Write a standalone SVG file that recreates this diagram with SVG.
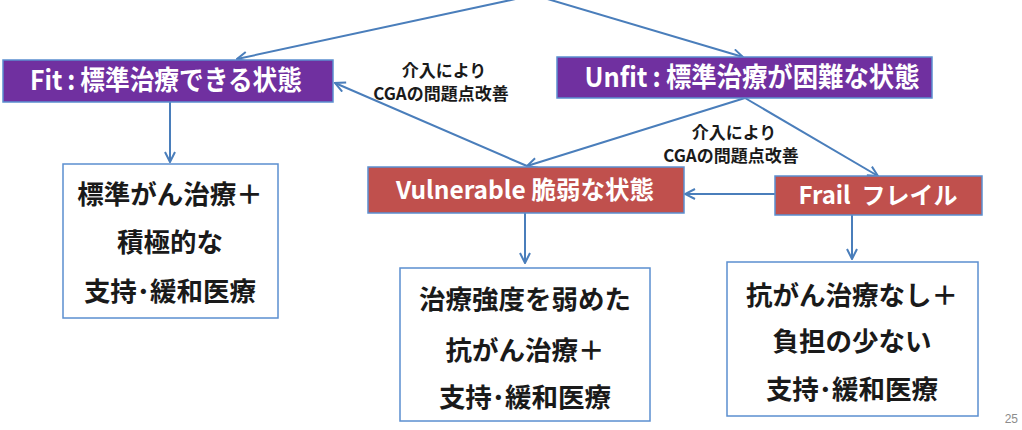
<svg xmlns="http://www.w3.org/2000/svg" width="1022" height="430" viewBox="0 0 1022 430">
<defs>
<style>
.bx{stroke:#5B8FD0;stroke-width:1.5}
.pu{fill:#7030A0}
.rd{fill:#C0504D}
.wh{fill:#FFFFFF}
.t{font-family:"Noto Sans CJK JP","Noto Sans",sans-serif;font-weight:bold;text-anchor:middle}
.tw{fill:#FFFFFF}
.tb{fill:#1a1a1a;font-size:26.5px}
.lb{fill:#1a1a1a;font-size:17px}
.cn{stroke:#4A7EBB;stroke-width:2;fill:none;marker-end:url(#ah)}
</style>
<marker id="ah" viewBox="0 0 12 12" refX="11" refY="6" markerWidth="12" markerHeight="12" markerUnits="userSpaceOnUse" orient="auto">
<path d="M1,1 L11,6 L1,11" fill="none" stroke="#4A7EBB" stroke-width="2"/>
</marker>
</defs>
<rect width="1022" height="430" fill="#FFFFFF"/>
<g id="connectors">
<line class="cn" x1="534" y1="-5" x2="237" y2="59"/>
<line class="cn" x1="534" y1="-5" x2="743" y2="57"/>
<line class="cn" x1="170" y1="102" x2="170" y2="162"/>
<line class="cn" x1="745" y1="98" x2="527" y2="166"/>
<line class="cn" x1="745" y1="98" x2="878" y2="176"/>
<line class="cn" x1="527" y1="166" x2="335" y2="83"/>
<line class="cn" x1="775" y1="194" x2="685" y2="194"/>
<line class="cn" x1="525" y1="213" x2="525" y2="263"/>
<line class="cn" x1="852" y1="215" x2="852" y2="259"/>
</g>
<g id="label1">
<text class="t lb" x="444" y="77">介入により</text>
<text class="t lb" x="441" y="100">CGAの問題点改善</text>
</g>
<g id="label2">
<text class="t lb" x="734" y="139">介入により</text>
<text class="t lb" x="731" y="162">CGAの問題点改善</text>
</g>
<g id="fit">
<rect class="bx pu" x="3" y="60" width="330" height="42"/>
<text class="t tw" x="166" y="90" font-size="27" textLength="272" lengthAdjust="spacingAndGlyphs">Fit&#8201;:&#8201;標準治療できる状態</text>
</g>
<g id="unfit">
<rect class="bx pu" x="557" y="57" width="375" height="41"/>
<text class="t tw" x="752" y="87" font-size="27" textLength="335" lengthAdjust="spacingAndGlyphs">Unfit&#8201;:&#8201;標準治療が困難な状態</text>
</g>
<g id="vulnerable">
<rect class="bx rd" x="368" y="167" width="316" height="46"/>
<text class="t tw" x="525" y="199" font-size="24.5">Vulnerable 脆弱な状態</text>
</g>
<g id="frail">
<rect class="bx rd" x="775" y="176" width="207" height="39"/>
<text class="t tw" x="878" y="204" font-size="24" xml:space="preserve">Frail  フレイル</text>
</g>
<g id="box1">
<rect class="bx wh" x="63" y="164" width="215" height="154"/>
<text class="t tb" x="170" y="204">標準がん治療＋</text>
<text class="t tb" x="170" y="252">積極的な</text>
<text class="t tb" x="170" y="301">支持･緩和医療</text>
</g>
<g id="box2">
<rect class="bx wh" x="400" y="268" width="250" height="153"/>
<text class="t tb" x="525" y="309">治療強度を弱めた</text>
<text class="t tb" x="525" y="360">抗がん治療＋</text>
<text class="t tb" x="525" y="407">支持･緩和医療</text>
</g>
<g id="box3">
<rect class="bx wh" x="727" y="262" width="251" height="154"/>
<text class="t tb" x="852" y="305">抗がん治療なし＋</text>
<text class="t tb" x="852" y="351">負担の少ない</text>
<text class="t tb" x="852" y="399">支持･緩和医療</text>
</g>
<text x="1018" y="423" font-family="Liberation Sans, sans-serif" font-size="12" fill="#8C8C8C" text-anchor="end">25</text>
</svg>
